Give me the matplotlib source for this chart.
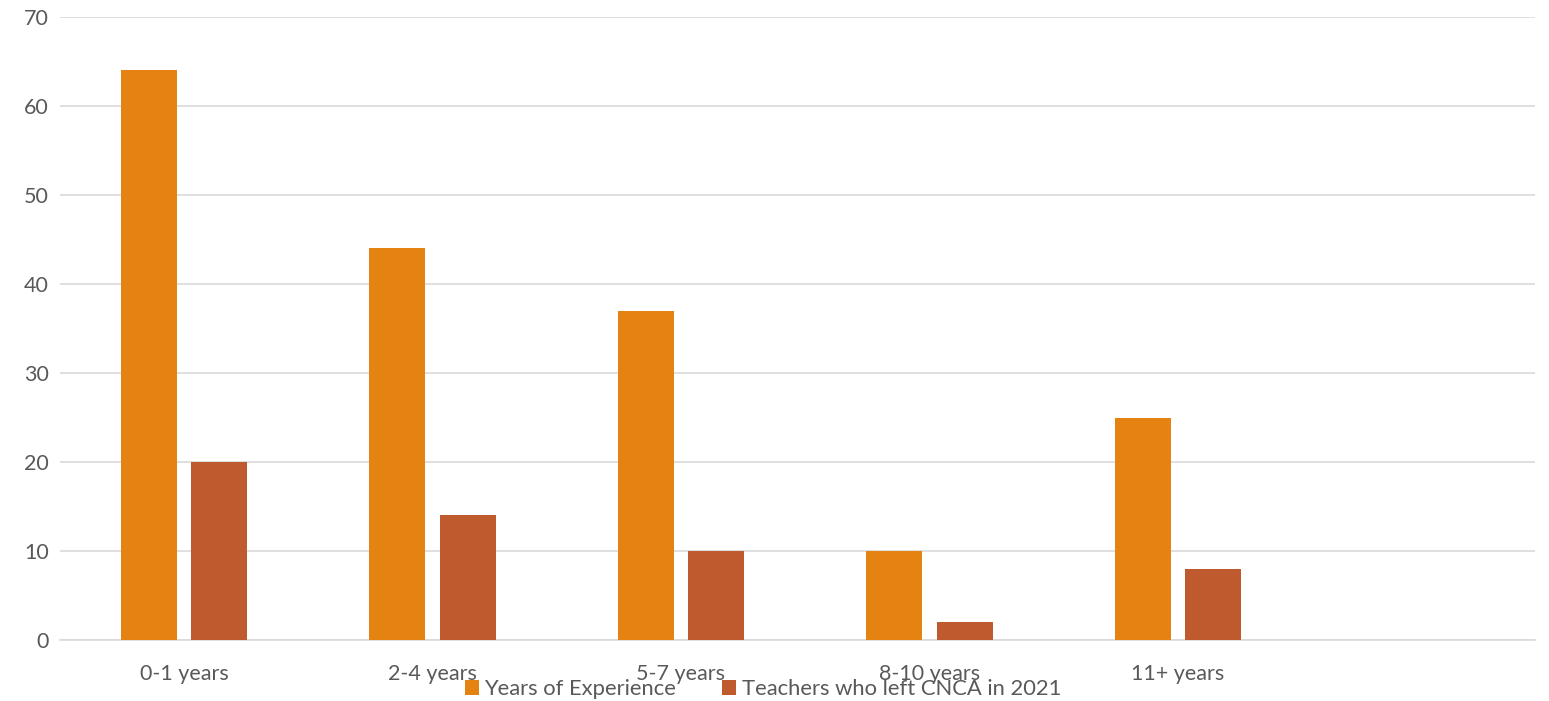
import matplotlib
matplotlib.use("Agg")
import matplotlib.pyplot as plt
import numpy as np

# data
categories = ["0-1 years", "2-4 years", "5-7 years", "8-10 years", "11+ years", ""]
experience = [64, 44, 37, 10, 25, 0]
left_2021 = [20, 14, 10, 2, 8, 0]
series_names = ["Years of Experience", "Teachers who left CNCA in 2021"]

plt.rcParams["font.family"] = ["Lato", "DejaVu Sans"]
txt_col = "#595959"

fig = plt.figure(figsize=(15.49, 7.01), dpi=100)
ax = fig.add_axes([60 / 1549, 1 - 640 / 701, 1475 / 1549, 623 / 701])

x = np.arange(len(categories))
w = 0.225
b1 = ax.bar(x - 0.142, experience, w, color="#E58312", label=series_names[0], zorder=3)
b2 = ax.bar(x + 0.142, left_2021, w, color="#BE5A2E", label=series_names[1], zorder=3)

ax.set_xlim(-0.499, 5.437)
ax.set_ylim(0, 70)
ax.set_yticks(range(0, 71, 10))
ax.yaxis.grid(True, color="#D9D9D9", linewidth=1.2, zorder=0)
ax.set_xticks(x)
ax.set_xticklabels(categories)
ax.tick_params(axis="both", length=0, labelsize=15.5, colors=txt_col)
ax.tick_params(axis="y", pad=8)
ax.tick_params(axis="x", pad=17)
for sp in ["top", "right", "left"]:
    ax.spines[sp].set_visible(False)
ax.spines["bottom"].set_color("#D9D9D9")
ax.spines["bottom"].set_linewidth(1.2)

fig.legend(handles=[b1, b2], loc="center", bbox_to_anchor=(763 / 1549, 1 - 689 / 701),
           ncol=2, frameon=False, fontsize=15.8, labelcolor=txt_col,
           handlelength=0.65, handleheight=0.65, handletextpad=0.25, columnspacing=2.1,
           borderpad=0, borderaxespad=0)

fig.savefig("out.png", dpi=100)
